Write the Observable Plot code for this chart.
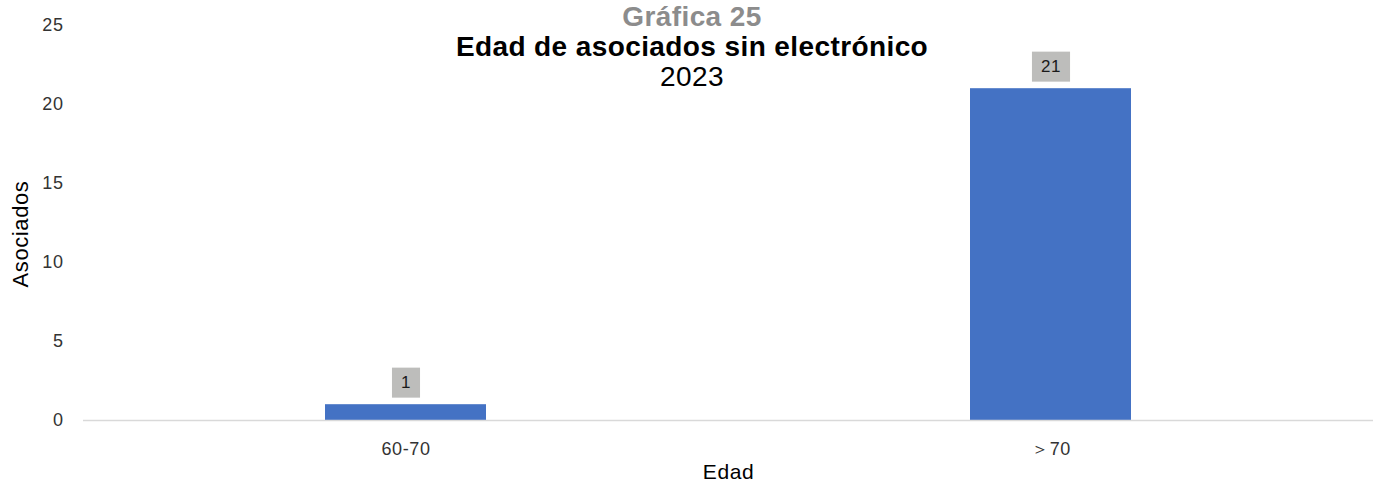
<!DOCTYPE html>
<html>
<head>
<meta charset="utf-8">
<script src="https://cdn.jsdelivr.net/npm/d3@7"></script>
<script src="https://cdn.jsdelivr.net/npm/@observablehq/plot@0.6"></script>
<style>
  body { margin: 0; background: #fff; font-family: "Liberation Sans", Arial, sans-serif; }
  #wrap { position: relative; width: 1379px; height: 485px; }
  #title { position: absolute; left: 0; top: 2px; width: 1384px; text-align: center; pointer-events: none; letter-spacing: 0.4px; }
  #title .t1 { font-weight: bold; font-size: 28px; color: #8c8c8c; line-height: 30px; }
  #title .t2 { font-weight: bold; font-size: 28px; color: #000; line-height: 30px; }
  #title .t3 { font-size: 28px; color: #000; line-height: 30px; }
  #chart svg text { letter-spacing: 0.6px; }
</style>
</head>
<body>
<div id="wrap">
  <div id="chart"></div>
  <div id="title">
    <div class="t1">Gráfica 25</div>
    <div class="t2">Edad de asociados sin electrónico</div>
    <div class="t3">2023</div>
  </div>
</div>
<script>
const categories = ["60-70", "＞70"];
const values = [1, 21];
const yTicks = [0, 5, 10, 15, 20, 25];

const data = categories.map((c, i) => ({ edad: c, n: values[i] }));

const chart = Plot.plot({
  width: 1379,
  height: 485,
  marginLeft: 83,
  marginRight: 6,
  marginTop: 25,
  marginBottom: 65,
  style: { fontFamily: "Liberation Sans, Arial, sans-serif", fontSize: "18px", color: "#333" },
  x: { domain: categories, paddingInner: 0.75, paddingOuter: 0.375, align: 0.5, label: null },
  y: { domain: [0, 25], ticks: yTicks, label: null },
  marks: [
    Plot.barY(data, { x: "edad", y: "n", fill: "#4472C4" }),
    Plot.ruleY([0], { stroke: "#d9d9d9", strokeWidth: 1.5 }),
    Plot.text(data, { x: "edad", y: "n", text: d => String(d.n), dy: -22, fontSize: 17, fill: "#1a1a1a", lineAnchor: "middle", className: "vlabel" }),
    Plot.axisX({ tickSize: 0, tickPadding: 22, fontSize: 18, fill: "#333", label: null }),
    Plot.axisY({ ticks: yTicks, tickSize: 0, tickPadding: 20, fontSize: 18, fill: "#333", label: null }),
    Plot.text(["Edad"], { frameAnchor: "bottom", dy: 52, fontSize: 21, fill: "#000", lineAnchor: "middle" }),
    Plot.text(["Asociados"], { frameAnchor: "left", textAnchor: "middle", dx: -63, dy: 11, rotate: -90, fontSize: 22, fill: "#000" })
  ]
});
document.getElementById("chart").appendChild(chart);

// gray background boxes behind the value labels
const svgEl = document.querySelector("#chart svg");
svgEl.querySelectorAll("g.vlabel text").forEach(t => {
  const b = t.getBBox();
  const r = document.createElementNS("http://www.w3.org/2000/svg", "rect");
  const padX = 9, h = 30;
  r.setAttribute("x", b.x - padX);
  r.setAttribute("y", b.y + b.height / 2 - h / 2);
  r.setAttribute("width", b.width + 2 * padX);
  r.setAttribute("height", h);
  r.setAttribute("fill", "#bdbdbb");
  const tr = t.getAttribute("transform");
  if (tr) r.setAttribute("transform", tr);
  t.parentNode.insertBefore(r, t);
});
</script>
</body>
</html>
